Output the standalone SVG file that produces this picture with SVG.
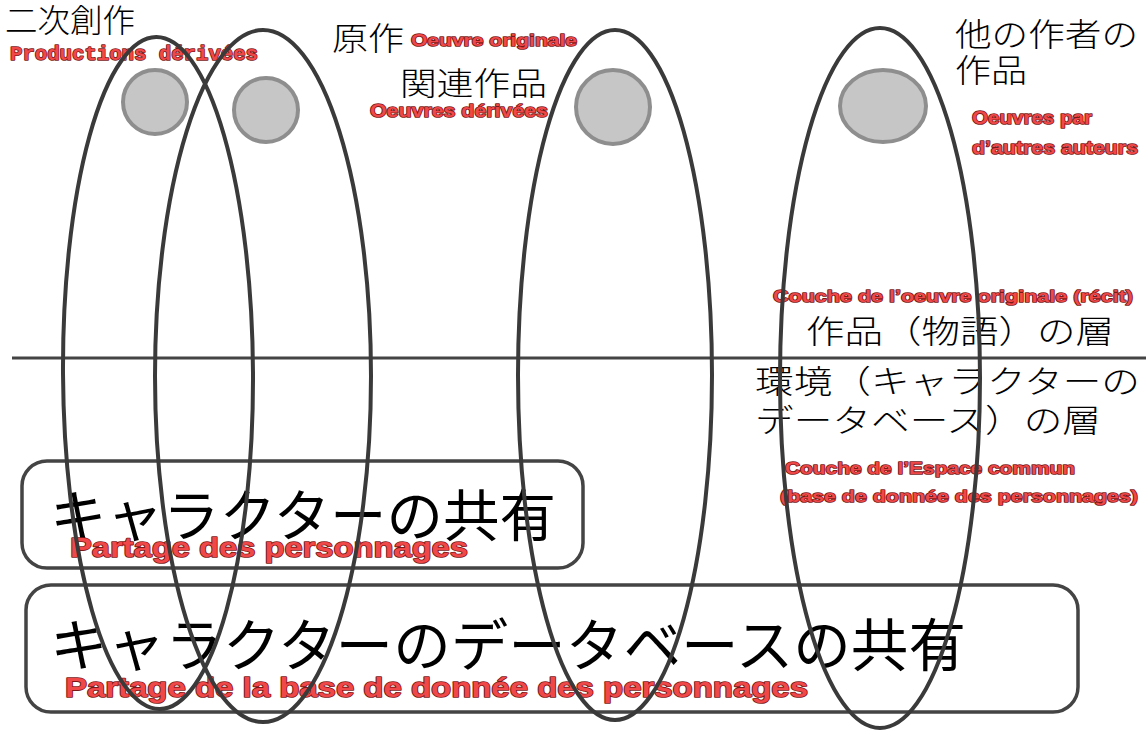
<svg xmlns="http://www.w3.org/2000/svg" width="1146" height="731" viewBox="0 0 1146 731">
<style>
.jp{font-family:"Noto Sans CJK JP","Noto Sans CJK SC",sans-serif;font-weight:300;fill:#000}
.big{font-weight:400}
.fr{font-family:"Liberation Sans",Arial,sans-serif;font-weight:bold;fill:#f04848;stroke:#7a1818;stroke-width:1.6;paint-order:stroke;stroke-linejoin:round}
.mono{font-family:"Liberation Mono","Courier New",monospace}
.box{fill:none;stroke:#444;stroke-width:3.5}
.ell{fill:none;stroke:#3a3a3a;stroke-width:4}
.dot{fill:#c6c6c6;stroke:#8e8e8e;stroke-width:4}
</style>
<rect width="1146" height="731" fill="#fff"/>
<line x1="12" y1="358" x2="1146" y2="358" stroke="#444" stroke-width="3"/>
<g id="box-partage">
<rect class="box" x="22" y="461" width="561" height="107" rx="25"/>
<text class="jp big" x="50" y="536" font-size="56" textLength="506" lengthAdjust="spacingAndGlyphs">キャラクターの共有</text>
<text class="fr" x="70" y="557" font-size="28" textLength="398" lengthAdjust="spacingAndGlyphs">Partage des personnages</text>
</g>
<g id="box-base">
<rect class="box" x="26" y="585" width="1052" height="127" rx="25"/>
<text class="jp big" x="50" y="666" font-size="57" textLength="916" lengthAdjust="spacingAndGlyphs">キャラクターのデータベースの共有</text>
<text class="fr" x="65" y="697" font-size="27" textLength="743" lengthAdjust="spacingAndGlyphs">Partage de la base de donnée des personnages</text>
</g>
<g id="labels">
<text class="jp" x="5" y="32" font-size="32" textLength="130" lengthAdjust="spacingAndGlyphs">二次創作</text>
<text class="fr mono" x="10" y="60" font-size="20" textLength="248" lengthAdjust="spacingAndGlyphs">Productions dérivées</text>
<text class="jp" x="332" y="50" font-size="32" textLength="72" lengthAdjust="spacingAndGlyphs">原作</text>
<text class="fr" x="411" y="46" font-size="17" textLength="166" lengthAdjust="spacingAndGlyphs">Oeuvre originale</text>
<text class="jp" x="400" y="95" font-size="32" textLength="147" lengthAdjust="spacingAndGlyphs">関連作品</text>
<text class="fr" x="370" y="117" font-size="18" textLength="178" lengthAdjust="spacingAndGlyphs">Oeuvres dérivées</text>
<text class="jp" x="955" y="46" font-size="32" textLength="183" lengthAdjust="spacingAndGlyphs">他の作者の</text>
<text class="jp" x="955" y="82" font-size="32" textLength="72" lengthAdjust="spacingAndGlyphs">作品</text>
<text class="fr" x="972" y="124" font-size="18" textLength="120" lengthAdjust="spacingAndGlyphs">Oeuvres par</text>
<text class="fr" x="972" y="154" font-size="18" textLength="166" lengthAdjust="spacingAndGlyphs">d’autres auteurs</text>
<text class="fr" x="773" y="302" font-size="17" textLength="360" lengthAdjust="spacingAndGlyphs">Couche de l’oeuvre originale (récit)</text>
<text class="jp" x="806" y="343" font-size="32" textLength="308" lengthAdjust="spacingAndGlyphs">作品（物語）の層</text>
<text class="jp" x="755" y="393" font-size="32" textLength="385" lengthAdjust="spacingAndGlyphs">環境（キャラクターの</text>
<text class="jp" x="755" y="432" font-size="32" textLength="346" lengthAdjust="spacingAndGlyphs">データベース）の層</text>
<text class="fr" x="785" y="474" font-size="17" textLength="290" lengthAdjust="spacingAndGlyphs">Couche de l’Espace commun</text>
<text class="fr" x="780" y="502" font-size="17" textLength="358" lengthAdjust="spacingAndGlyphs">(base de donnée des personnages)</text>
</g>
<g id="works">
<circle class="dot" cx="155" cy="102" r="32"/>
<circle class="dot" cx="266" cy="110" r="32"/>
<circle class="dot" cx="613" cy="107" r="37"/>
<ellipse class="dot" cx="883" cy="106" rx="43" ry="36"/>
</g>
<g id="connectors">
<ellipse id="e-derivees" class="ell" cx="158" cy="373" rx="95" ry="336" transform="rotate(-0.3 158 373)"/>
<ellipse id="e-original" class="ell" cx="263" cy="376" rx="108" ry="346"/>
<ellipse id="e-relies" class="ell" cx="615" cy="375" rx="97" ry="345"/>
<ellipse id="e-autres" class="ell" cx="880" cy="378" rx="100" ry="350"/>
</g>
</svg>
